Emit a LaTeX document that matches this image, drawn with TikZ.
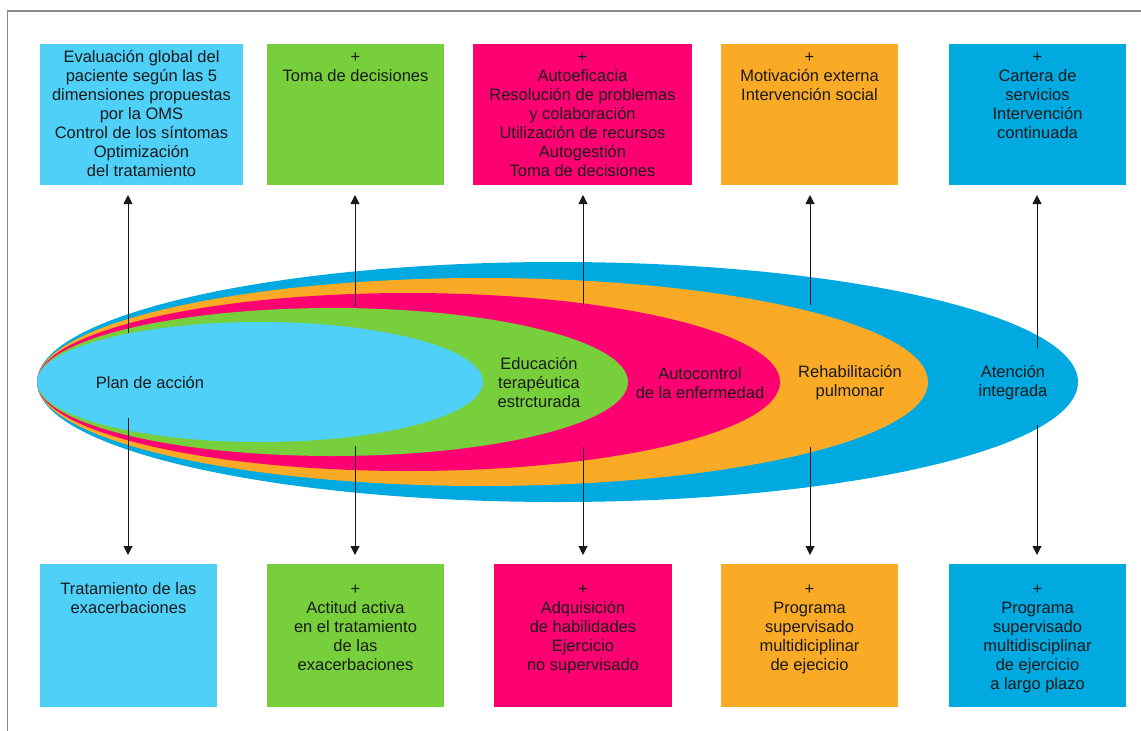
\documentclass[tikz,border=0pt]{standalone}
\usepackage{fontspec}
\setmainfont{Liberation Sans}
\usetikzlibrary{arrows.meta}
\definecolor{cLight}{HTML}{4FD0F8}
\definecolor{cGreen}{HTML}{76CF3B}
\definecolor{cMag}{HTML}{FF0073}
\definecolor{cOrange}{HTML}{FBAA26}
\definecolor{cBlue}{HTML}{00A9E0}
\definecolor{cFrame}{HTML}{8A8A8A}
\definecolor{cInk}{HTML}{1A1A1A}
\newcommand{\firststrut}{\rule{0pt}{15pt}}
\begin{document}
\begin{tikzpicture}[x=1pt,y=-1pt,
  panel/.style={inner sep=0pt, outer sep=0pt, anchor=north west, minimum height=#1},
  toppanel/.style={panel=141pt},
  botpanel/.style={panel=143pt},
  txt/.style={align=center, inner sep=0pt, text=cInk, font=\fontsize{16.5}{19}\selectfont},
  arr/.style={line width=1pt, draw=cInk, -{Triangle[length=9pt,width=9pt]}},
]
\useasboundingbox (0,0) rectangle (1141,731);

% frame lines
\draw[cFrame, line width=1.3pt] (1141,11) -- (7.5,11) -- (7.5,731);

% nested ellipses, all sharing the left tip
\fill[cBlue]   (557.5,382) ellipse [x radius=520.5pt, y radius=120pt];
\fill[cOrange] (482.5,382) ellipse [x radius=445.5pt, y radius=104pt];
\fill[cMag]    (408.5,382) ellipse [x radius=371.5pt, y radius=89pt];
\fill[cGreen]  (332.5,382) ellipse [x radius=295.5pt, y radius=74pt];
\fill[cLight]  (260,382)   ellipse [x radius=223pt,   y radius=60pt];

\node[txt] (e1) at (150,383) {Plan de acción};
\node[txt] (e2) at (539,383) {Educación\\terapéutica\\estrcturada};
\node[txt] (e3) at (700,383) {Autocontrol\\de la enfermedad};
\node[txt] (e4) at (850,383) {Rehabilitación\\pulmonar};
\node[txt] (e5) at (1013,383) {Atención\\integrada};

% upper panels
\node[toppanel, fill=cLight,  minimum width=203pt] (t1) at (40,44) {};
\node[toppanel, fill=cGreen,  minimum width=177pt] (t2) at (267,44) {};
\node[toppanel, fill=cMag,    minimum width=219pt] (t3) at (473,44) {};
\node[toppanel, fill=cOrange, minimum width=177pt] (t4) at (721,44) {};
\node[toppanel, fill=cBlue,   minimum width=177pt] (t5) at (949,44) {};

\node[txt, anchor=north] (t1x) at ([yshift=-3pt]t1.north) {\firststrut Evaluación global del\\paciente según las 5\\dimensiones propuestas\\por la OMS\\Control de los síntomas\\Optimización\\del tratamiento};
\node[txt, anchor=north] (t2x) at ([yshift=-3pt]t2.north) {\firststrut +\\Toma de decisiones};
\node[txt, anchor=north] (t3x) at ([yshift=-3pt]t3.north) {\firststrut +\\Autoeficacia\\Resolución de problemas\\y colaboración\\Utilización de recursos\\Autogestión\\Toma de decisiones};
\node[txt, anchor=north] (t4x) at ([yshift=-3pt]t4.north) {\firststrut +\\Motivación externa\\Intervención social};
\node[txt, anchor=north] (t5x) at ([yshift=-3pt]t5.north) {\firststrut +\\Cartera de\\servicios\\Intervención\\continuada};

% lower panels
\node[botpanel, fill=cLight,  minimum width=177pt] (b1) at (40,564) {};
\node[botpanel, fill=cGreen,  minimum width=177pt] (b2) at (267,564) {};
\node[botpanel, fill=cMag,    minimum width=178pt] (b3) at (494,564) {};
\node[botpanel, fill=cOrange, minimum width=177pt] (b4) at (721,564) {};
\node[botpanel, fill=cBlue,   minimum width=177pt] (b5) at (949,564) {};

\node[txt, anchor=north] (b1x) at ([yshift=-15pt]b1.north) {\firststrut Tratamiento de las\\exacerbaciones};
\node[txt, anchor=north] (b2x) at ([yshift=-15pt]b2.north) {\firststrut +\\Actitud activa\\en el tratamiento\\de las\\exacerbaciones};
\node[txt, anchor=north] (b3x) at ([yshift=-15pt]b3.north) {\firststrut +\\Adquisición\\de habilidades\\Ejercicio\\no supervisado};
\node[txt, anchor=north] (b4x) at ([yshift=-15pt]b4.north) {\firststrut +\\Programa\\supervisado\\multidiciplinar\\de ejecicio};
\node[txt, anchor=north] (b5x) at ([yshift=-15pt]b5.north) {\firststrut +\\Programa\\supervisado\\multidisciplinar\\de ejercicio\\a largo plazo};

% connector start points inside the ellipses
\coordinate (u1) at (128,333);  \coordinate (d1) at (128,418);
\coordinate (u2) at (355,306);  \coordinate (d2) at (355,446);
\coordinate (u3) at (583,305);  \coordinate (d3) at (583,447);
\coordinate (u4) at (810,305);  \coordinate (d4) at (810,447);
\coordinate (u5) at (1037,348); \coordinate (d5) at (1037,425);

\foreach \i in {1,...,5} {
  \draw[arr, shorten >=10pt] (u\i) -- (u\i |- t\i.south);
  \draw[arr, shorten >=9pt]  (d\i) -- (d\i |- b\i.north);
}
\end{tikzpicture}
\end{document}
